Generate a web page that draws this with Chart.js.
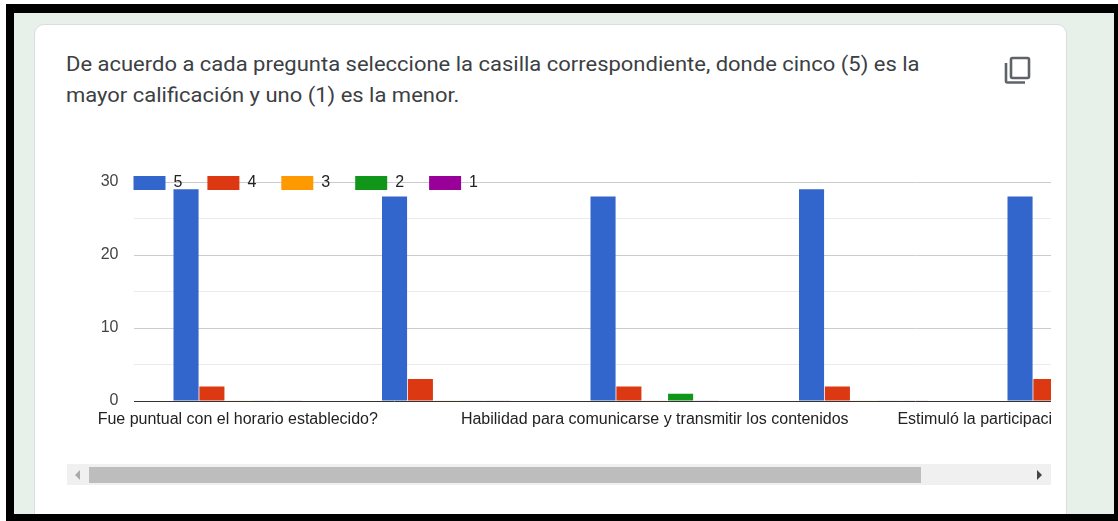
<!DOCTYPE html>
<html>
<head>
<meta charset="utf-8">
<script src="https://cdnjs.cloudflare.com/ajax/libs/Chart.js/4.4.0/chart.umd.min.js"></script>
<style>
  html, body { margin: 0; padding: 0; background: #fff; }
  #frame { position: absolute; left: 6px; top: 4px; width: 1108px; height: 510px; box-sizing: border-box; border: solid #000; border-width: 9px 0 0 8px; background: #e7f1e9; }
  #bottom { position: absolute; left: 6px; top: 514px; width: 1112px; height: 7px; background: #000; }
  #right { position: absolute; left: 1114px; top: 4px; width: 4px; height: 517px; background: #000; }
  #card { position: absolute; left: 34px; top: 24px; width: 1033px; height: 500px; box-sizing: border-box; background: #fff; border: 1px solid #dadce0; border-radius: 10px; }
  #question { position: absolute; left: 66px; top: 49px; font: 19.6px/31px Roboto, sans-serif; color: #3c4043; white-space: nowrap; transform: scaleX(1.122); transform-origin: left top; }
  #copy { position: absolute; left: 1003px; top: 55px; }
  #scroll { position: absolute; left: 66px; top: 131px; width: 985px; height: 309px; overflow: hidden; }
  #track { position: absolute; left: 67px; top: 464px; width: 984px; height: 21px; background: #f0f0f0; }
  #thumb { position: absolute; left: 22px; top: 3px; width: 832px; height: 16px; background: #bdbdbd; }
  .arrow { position: absolute; top: 6px; width: 0; height: 0; border-top: 5px solid transparent; border-bottom: 5px solid transparent; }
  #left-arrow { left: 8px; border-right: 5px solid #aaa; }
  #right-arrow { left: 970px; border-left: 5px solid #444; }
</style>
</head>
<body>
<div id="frame"></div>
<div id="right"></div>
<div id="card"></div>
<div id="bottom"></div>
<div id="question">De acuerdo a cada pregunta seleccione la casilla correspondiente, donde cinco (5) es la<br>mayor calificación y uno (1) es la menor.</div>
<svg id="copy" width="30" height="30" viewBox="0 0 30 30" fill="none" stroke="#5f6368" stroke-width="2.6">
  <rect x="8" y="3" width="18" height="20" rx="1.5"/>
  <path d="M3 8v18a1.5 1.5 0 0 0 1.5 1.5H22"/>
</svg>
<div id="scroll"><canvas id="chart" width="1110" height="309"></canvas></div>
<div id="track">
  <div class="arrow" id="left-arrow"></div>
  <div id="thumb"></div>
  <div class="arrow" id="right-arrow"></div>
</div>
<script>
// only labels 1, 3 and 5 are drawn in the original, the others get skipped
const categories = [
  "Fue puntual con el horario establecido?",
  "",
  "Habilidad para comunicarse y transmitir los contenidos",
  "",
  "Estimuló la participación de los alumnos en clase"
];
const seriesNames = ["5", "4", "3", "2", "1"];
const seriesColors = ["#3366cc", "#dc3912", "#ff9900", "#109618", "#990099"];
const faintColors = ["#d6e0f5", "#f8d7ce", "#fbe9cc", "#d5e8d6", "#ecd5ec"];
const values5 = [29, 28, 28, 29, 28];
const values4 = [2, 3, 2, 2, 3];
const values3 = [0, 0, 0, 0, 0];
const values2 = [0, 0, 1, 0, 0];
const values1 = [0, 0, 0, 0, 0];
const allValues = [values5, values4, values3, values2, values1];

const legendShift = {
  id: "legendShift",
  afterLayout(chart) {
    // legend sits on top of the 30 gridline, bottom too because legend clips to its box
    const pad = chart.legend.options.labels.padding;
    chart.legend.left = chart.chartArea.left - pad;
    chart.legend.top = chart.chartArea.top - 7 - pad;
    chart.legend.bottom = chart.chartArea.top + 20;
  }
};

new Chart(document.getElementById("chart").getContext("2d"), {
  type: "bar",
  data: {
    labels: categories,
    datasets: seriesNames.map((name, i) => ({
      label: name,
      data: allValues[i],
      backgroundColor: (c) => (c.raw === 0 ? faintColors[i] : seriesColors[i]),
      categoryPercentage: 0.62,
      barPercentage: 0.97,
      minBarLength: 1
    }))
  },
  options: {
    responsive: false,
    animation: false,
    layout: { autoPadding: false, padding: 0 },
    plugins: {
      tooltip: { enabled: false },
      legend: {
        position: "top",
        align: "start",
        labels: {
          boxWidth: 32,
          boxHeight: 14,
          padding: 25,
          color: "#222",
          font: { family: "Liberation Sans", size: 16 },
          generateLabels: (chart) => seriesNames.map((name, i) => ({
            text: name,
            fillStyle: seriesColors[i],
            strokeStyle: seriesColors[i],
            lineWidth: 0,
            fontColor: "#222",
            datasetIndex: i
          }))
        }
      }
    },
    scales: {
      x: {
        afterFit: (scale) => {
          scale.height = 39;
          // long labels must not squeeze the bars, the wrapper cuts them off instead
          scale.paddingLeft = 0;
          scale.paddingRight = 0;
        },
        grid: { display: false },
        border: { display: false },
        ticks: {
          autoSkip: false,
          maxRotation: 0,
          padding: 1,
          color: "#222",
          font: { family: "Liberation Sans", size: 16 }
        }
      },
      y: {
        min: 0,
        max: 30,
        afterFit: (scale) => { scale.width = 67.5; },
        border: { display: false },
        grid: {
          drawTicks: false,
          color: (c) => (c.tick.value === 0 ? "#333333" : c.tick.value % 10 === 0 ? "#cccccc" : "#ebebeb")
        },
        ticks: {
          stepSize: 5,
          padding: 15,
          color: "#444",
          font: { family: "Liberation Sans", size: 16 },
          callback: (v) => (v % 10 === 0 ? String(v) : "")
        }
      }
    }
  },
  plugins: [legendShift]
});
</script>
</body>
</html>
